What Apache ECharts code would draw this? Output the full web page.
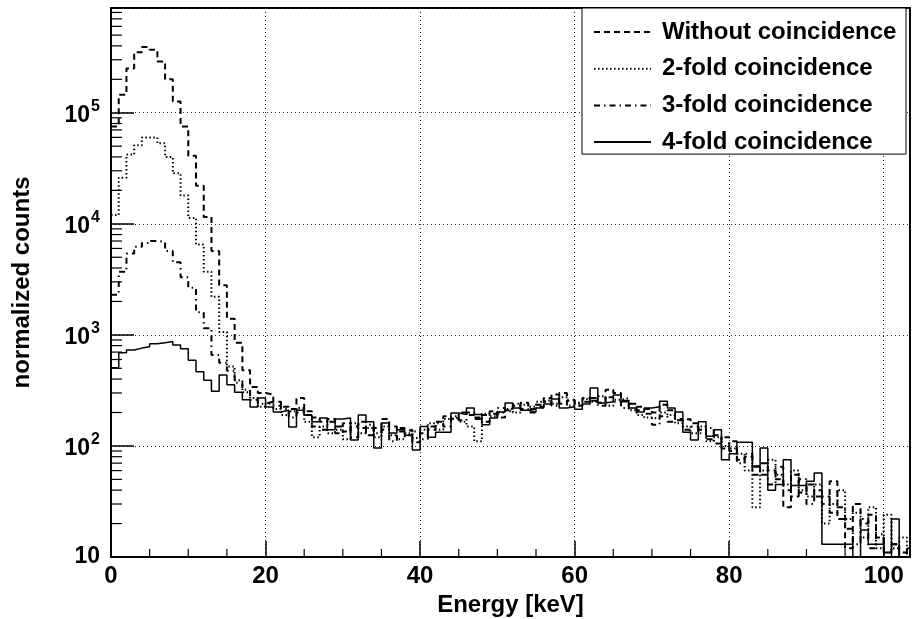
<!DOCTYPE html>
<html>
<head>
<meta charset="utf-8">
<script src="https://cdn.jsdelivr.net/npm/echarts@6/dist/echarts.min.js"></script>
<style>
html, body { margin: 0; padding: 0; background: #fff; }
#chart { width: 912px; height: 619px; }
</style>
</head>
<body>
<div id="chart"></div>
<script>
// bin width in keV, histogram starts at 0
var binWidth = 1;

var withoutCoinc = [75000, 145000, 250000, 350000, 390000, 370000, 290000, 200000, 126000, 75000,
    41000, 22000, 11500, 5700, 2800, 1400, 850, 480, 340, 300,
    290, 250, 225, 215, 270, 205, 180, 165, 175, 150,
    135, 150, 165, 125, 145, 175, 150, 135, 140, 108,
    130, 150, 165, 185, 175, 200, 190, 175, 190, 205,
    180, 210, 230, 245, 215, 235, 270, 290, 240, 255,
    230, 250, 270, 245, 320, 300, 255, 240, 225, 215,
    200, 235, 210, 170, 175, 160, 140, 115, 125, 95,
    110, 75, 80, 55, 70, 60, 50, 28, 55, 38,
    45, 35, 30, 48, 22, 12, 30, 20, 24, 15,
    11, 13, 11, 10];

var twoFold = [12000, 26000, 42000, 51000, 60000, 60000, 53000, 40000, 28500, 18000,
    11300, 6500, 3700, 2200, 1060, 520, 390, 305, 270, 225,
    240, 215, 190, 205, 220, 165, 120, 150, 130, 140,
    115, 160, 130, 145, 120, 150, 125, 115, 130, 118,
    140, 160, 140, 175, 180, 165, 150, 110, 195, 185,
    200, 215, 200, 235, 225, 250, 260, 240, 275, 230,
    245, 265, 250, 280, 230, 260, 270, 210, 190, 180,
    175, 200, 190, 160, 150, 130, 150, 110, 120, 100,
    95, 85, 60, 28, 60, 75, 55, 45, 60, 40,
    35, 45, 20, 30, 40, 22, 25, 15, 28, 12,
    24, 12, 15, 12];

var threeFold = [2300, 3700, 5400, 6200, 6700, 7000, 6900, 5700, 4500, 3300,
    2650, 1600, 1150, 660, 560, 475, 370, 320, 260, 240,
    250, 230, 215, 180, 200, 190, 150, 140, 165, 130,
    160, 120, 145, 155, 130, 140, 110, 145, 125, 135,
    115, 140, 160, 150, 185, 170, 200, 180, 165, 195,
    220, 205, 240, 215, 200, 225, 250, 230, 300, 260,
    240, 270, 255, 230, 275, 250, 220, 240, 210, 195,
    155, 185, 165, 175, 140, 150, 130, 145, 105, 120,
    90, 70, 85, 65, 55, 45, 65, 40, 35, 50,
    30, 40, 35, 25, 28, 18, 13, 22, 12, 16,
    11, 13, 10, 12];

// empty bins (value 0) are given as 1, below the axis range
var fourFold = [505, 690, 730, 760, 780, 830, 850, 870, 810, 750,
    590, 465, 390, 310, 435, 355, 305, 260, 224, 270,
    224, 202, 210, 148, 210, 190, 165, 178, 140, 175,
    178, 113, 190, 165, 96, 161, 131, 140, 125, 92,
    150, 120, 133, 133, 198, 192, 220, 192, 155, 178,
    202, 243, 220, 210, 202, 220, 238, 265, 220, 225,
    214, 238, 332, 243, 250, 287, 250, 220, 202, 220,
    225, 253, 220, 202, 133, 113, 165, 122, 140, 75,
    85, 108, 108, 66, 96, 40, 45, 75, 44, 44,
    48, 57, 13, 13, 13, 13, 1, 17.5, 13, 13,
    1, 22, 1, 1];

var seriesNames = ['Without coincidence', '2-fold coincidence', '3-fold coincidence', '4-fold coincidence'];
var xTicks = [0, 20, 40, 60, 80, 100];

var xMinorTicks = [];
for (var t = 5; t < 103; t += 5) {
    if (t % 20 != 0) xMinorTicks.push([t, 10]);
}
var yMinorTicks = [];
for (var d = 10; d < 1e6; d *= 10) {
    for (var m = 2; m <= 9; m++) {
        if (m * d < 877000) yMinorTicks.push([0, m * d]);
    }
}

function toSteps(values) {
    var pts = [];
    for (var i = 0; i < values.length; i++) {
        pts.push([i * binWidth, values[i]]);
    }
    pts.push([values.length * binWidth, values[values.length - 1]]);
    return pts;
}

var font = 'Liberation Sans, Arial, Helvetica, sans-serif';

var chart = echarts.init(document.getElementById('chart'));

function histSeries(name, values, dash, width) {
    return {
        name: name,
        type: 'line',
        step: 'end',
        symbol: 'none',
        showSymbol: false,
        clip: true,
        data: toSteps(values),
        lineStyle: { color: '#000', width: width, type: dash },
        itemStyle: { color: '#000' },
        z: 3
    };
}

var option = {
    animation: false,
    backgroundColor: '#fff',
    textStyle: { fontFamily: font },
    grid: {
        left: 111,
        right: 2,
        top: 8,
        bottom: 62,
        containLabel: false,
        outerBoundsMode: 'none',
        show: true,
        borderColor: '#000',
        borderWidth: 2,
        backgroundColor: 'transparent'
    },
    legend: {
        data: seriesNames,
        orient: 'vertical',
        left: 582,
        top: 8,
        itemWidth: 57,
        itemHeight: 14,
        itemGap: 12.7,
        padding: [12, 4, 0, 11],
        borderColor: '#000',
        borderWidth: 1,
        backgroundColor: '#fff',
        itemStyle: { opacity: 0, borderWidth: 0 },
        textStyle: {
            fontFamily: font,
            fontWeight: 'bold',
            fontSize: 24,
            color: '#000',
            lineHeight: 24,
            width: 240,
            padding: [0, 0, 0, 6]
        }
    },
    xAxis: {
        type: 'value',
        min: 0,
        max: 103.4,
        interval: 20,
        name: 'Energy [keV]',
        nameLocation: 'middle',
        nameGap: 29,
        nameTextStyle: { fontFamily: font, fontWeight: 'bold', fontSize: 24, color: '#000' },
        axisLine: { show: true, lineStyle: { color: '#000', width: 2 } },
        axisTick: { show: true, inside: true, length: 16, lineStyle: { color: '#000', width: 1.5 } },
        axisLabel: {
            showMaxLabel: false,
            margin: 7,
            fontFamily: font,
            fontWeight: 'bold',
            fontSize: 24,
            color: '#000',
            formatter: function (v) {
                return xTicks.indexOf(v) >= 0 ? String(v) : '';
            }
        },
        splitLine: { show: true, lineStyle: { color: '#222', width: 1, type: [1, 3] } }
    },
    yAxis: {
        type: 'log',
        logBase: 10,
        min: 10,
        max: 877000,
        name: 'normalized counts',
        nameLocation: 'middle',
        nameGap: 77,
        nameRotate: 90,
        nameTextStyle: { fontFamily: font, fontWeight: 'bold', fontSize: 24, color: '#000' },
        axisLine: { show: true, lineStyle: { color: '#000', width: 2 } },
        axisTick: { show: true, inside: true, length: 23, lineStyle: { color: '#000', width: 1.5 } },
        axisLabel: {
            showMaxLabel: false,
            margin: 11,
            color: '#000',
            formatter: function (v) {
                var e = Math.log(v) / Math.LN10;
                var r = Math.round(e);
                if (Math.abs(e - r) > 1e-6) return '';
                if (r == 1) return '{b|10}';
                return '{b|10}{s|' + r + '}';
            },
            rich: {
                b: { fontFamily: font, fontWeight: 'bold', fontSize: 23, color: '#000', verticalAlign: 'bottom' },
                s: { fontFamily: font, fontWeight: 'bold', fontSize: 16, color: '#000', verticalAlign: 'bottom', padding: [0, 0, 12, 1] }
            }
        },
        splitLine: { show: true, lineStyle: { color: '#222', width: 1, type: [1, 3] } }
    },
    series: [
        histSeries(seriesNames[0], withoutCoinc, [6, 4], 2),
        histSeries(seriesNames[1], twoFold, [1.5, 2.5], 2),
        histSeries(seriesNames[2], threeFold, [6, 4, 1.5, 4], 2),
        histSeries(seriesNames[3], fourFold, 'solid', 1.5),
        {
            name: 'yMinor',
            type: 'custom',
            silent: true,
            data: yMinorTicks,
            renderItem: function (params, api) {
                var p = api.coord([0, api.value(1)]);
                return {
                    type: 'line',
                    shape: { x1: p[0], y1: p[1], x2: p[0] + 11, y2: p[1] },
                    style: { stroke: '#000', lineWidth: 1.2 }
                };
            },
            z: 4
        },
        {
            name: 'xMinor',
            type: 'custom',
            silent: true,
            data: xMinorTicks,
            renderItem: function (params, api) {
                var p = api.coord([api.value(0), 10]);
                return {
                    type: 'line',
                    shape: { x1: p[0], y1: p[1], x2: p[0], y2: p[1] - 8 },
                    style: { stroke: '#000', lineWidth: 1.2 }
                };
            },
            z: 4
        }
    ]
};

chart.setOption(option);
</script>
</body>
</html>
